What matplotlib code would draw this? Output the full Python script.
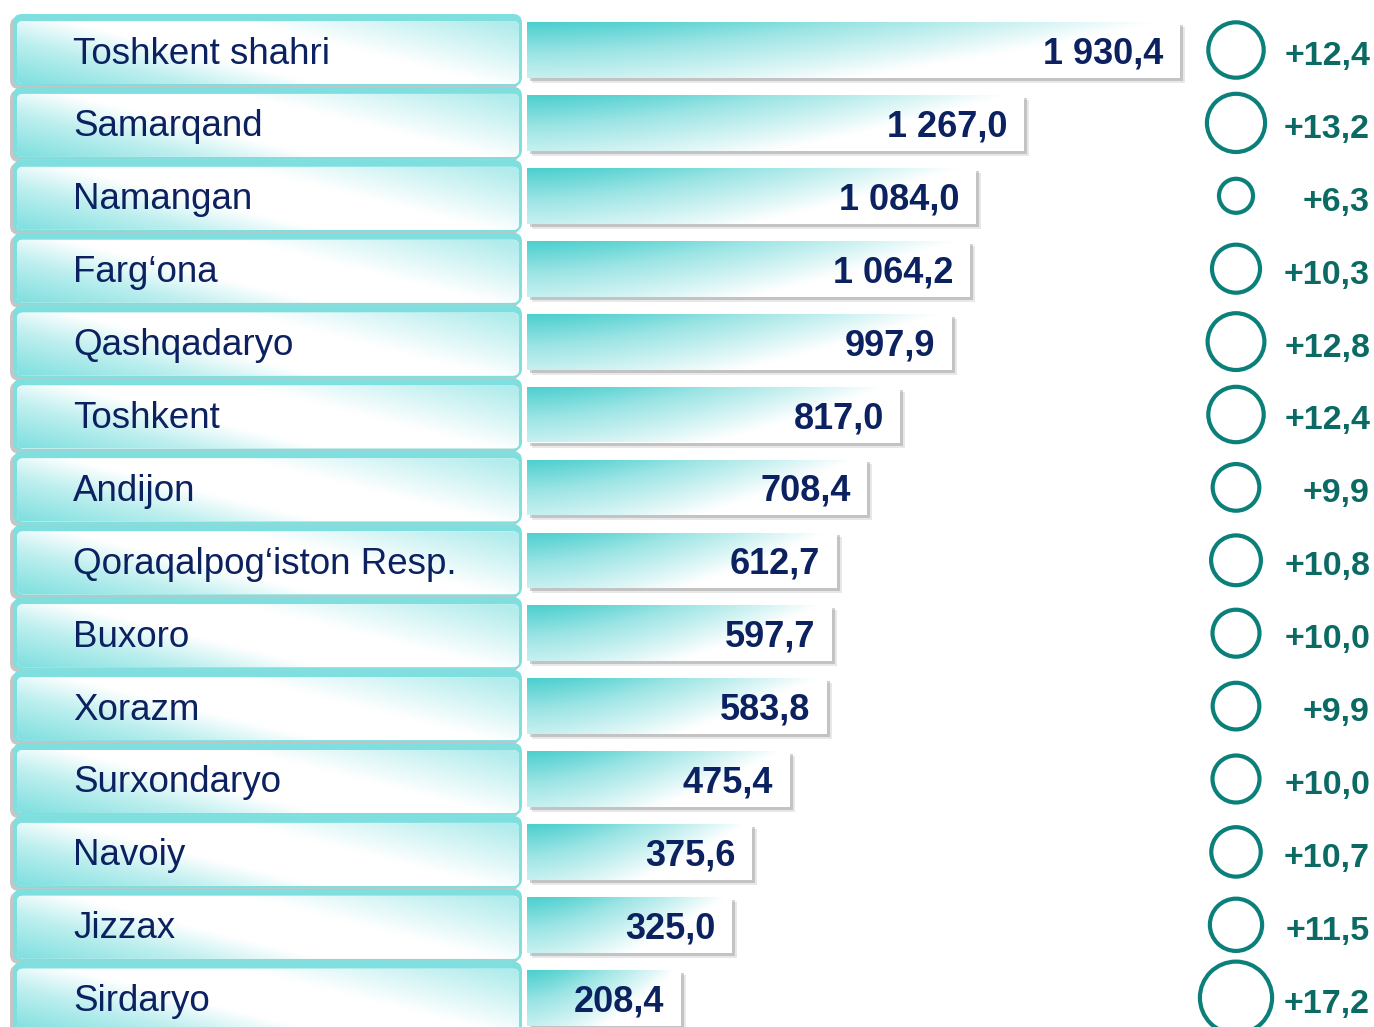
import numpy as np
import matplotlib
matplotlib.use('Agg')
import matplotlib.pyplot as plt
from matplotlib.patches import FancyBboxPatch
from matplotlib.colors import to_rgb
from matplotlib.transforms import offset_copy

regions = ['Toshkent shahri', 'Samarqand', 'Namangan', 'Farg\u2018ona', 'Qashqadaryo',
           'Toshkent', 'Andijon', 'Qoraqalpog\u2018iston Resp.', 'Buxoro', 'Xorazm',
           'Surxondaryo', 'Navoiy', 'Jizzax', 'Sirdaryo']
values = [1930.4, 1267.0, 1084.0, 1064.2, 997.9, 817.0, 708.4, 612.7, 597.7, 583.8,
          475.4, 375.6, 325.0, 208.4]
growth = [12.4, 13.2, 6.3, 10.3, 12.8, 12.4, 9.9, 10.8, 10.0, 9.9, 10.0, 10.7, 11.5, 17.2]

plt.rcParams['font.family'] = ['Liberation Sans', 'DejaVu Sans']

W, H = 1374, 1027
ROW0, PITCH = 50, 72.9
py = 1 / PITCH
n = len(regions)
ylim = ((H - ROW0) / PITCH, -ROW0 / PITCH)

NAVY = '#0b2160'
TEAL_BAR = np.array(to_rgb('#4ccfcf'))
TEAL_LBL = np.array(to_rgb('#7fdfdf'))
WHITE = np.ones(3)


def gradient(kx, ky, s_stops, a_stops, base, nw=200, nh=40):
    u = np.linspace(0, 1, nw)[None, :]
    w = np.linspace(0, 1, nh)[:, None]
    a = np.interp(kx * u + ky * w, s_stops, a_stops)[..., None]
    return WHITE * (1 - a) + base * a


def fmt_val(v):
    return f'{v:,.1f}'.replace(',', ' ').replace('.', ',')


fig = plt.figure(figsize=(W / 100, H / 100), dpi=100)
fig.patch.set_facecolor('white')

# bar axes, nonlinear x as in the original layout
p = 0.65
bx = fig.add_axes([527 / W, 0, (W - 527) / W, 1])
bx.set_xscale('function', functions=(lambda v: np.abs(v) ** p, lambda t: np.abs(t) ** (1 / p)))
bx.axis('off')
bx.set_zorder(0)

for dx, al in [(5, 0.18), (3, 0.35)]:
    sh = bx.barh(range(n), values, height=56 * py, color='#808080', alpha=al, zorder=1)
    for r in sh:
        r.set_transform(offset_copy(bx.transData, fig, x=dx, y=-dx, units='dots'))

bars = bx.barh(range(n), values, height=56 * py, color='white', zorder=2)
bar_img = gradient(1.0, 0.6, [0, 0.35, 0.95], [1, 0.55, 0], TEAL_BAR)
for i, (v, r) in enumerate(zip(values, bars)):
    im = bx.imshow(bar_img, extent=(0, v, i + 28 * py, i - 28 * py), aspect='auto',
                   origin='upper', interpolation='bilinear', zorder=3)
    im.set_clip_path(r)
    bx.annotate(fmt_val(v), xy=(v, i), xytext=(-12, 0), textcoords='offset points',
                ha='right', va='center_baseline', fontsize=26, fontweight='bold',
                color=NAVY, zorder=4)
bx.set_xlim(0, 2880)
bx.set_ylim(*ylim)

# overlay axes in pixels for label boxes, circles, growth
bg = fig.add_axes([0, 0, 1, 1])
bg.set_zorder(1)
bg.patch.set_visible(False)
bg.axis('off')

lbl_img = gradient(1.0, -0.5, [-0.5, -0.15, 0.1, 0.45, 0.95], [1, 0.5, 0, 0, 0.6], TEAL_LBL)
for i, name in enumerate(regions):
    shadow = FancyBboxPatch((13, i - 36 * py), 509, 72 * py,
                            boxstyle='round,pad=0,rounding_size=9', mutation_aspect=py,
                            fc='#8c8c8c', ec='none', alpha=0.5,
                            transform=offset_copy(bg.transData, fig, x=-3, y=-3, units='dots'))
    bg.add_patch(shadow)
    outer = FancyBboxPatch((13, i - 36 * py), 509, 72 * py,
                           boxstyle='round,pad=0,rounding_size=9', mutation_aspect=py,
                           fc=TEAL_LBL, ec='none')
    bg.add_patch(outer)
    inner = FancyBboxPatch((17, i - 29 * py), 502, 63 * py,
                           boxstyle='round,pad=0,rounding_size=6', mutation_aspect=py,
                           fc='white', ec='none')
    bg.add_patch(inner)
    im = bg.imshow(lbl_img, extent=(17, 519, i + 34 * py, i - 29 * py), aspect='auto',
                   origin='upper', interpolation='bilinear', zorder=2)
    im.set_clip_path(inner)
    bg.text(73, i, name, ha='left', va='center_baseline', fontsize=26.5, color=NAVY, zorder=3)

diam = [(12 + 3.5 * g) * 0.72 for g in growth]
bg.scatter([1236] * n, range(n), s=[d ** 2 for d in diam], facecolors='none',
           edgecolors='#0b807a', linewidths=3, zorder=3)
for i, g in enumerate(growth):
    bg.text(1370, i + 3 * py, f'+{g:.1f}'.replace('.', ','), ha='right', va='center_baseline',
            fontsize=24.5, fontweight='bold', color='#0c6a64', zorder=3)

bg.set_xlim(0, W)
bg.set_ylim(*ylim)

fig.savefig('out.png', dpi=100, facecolor='white')
